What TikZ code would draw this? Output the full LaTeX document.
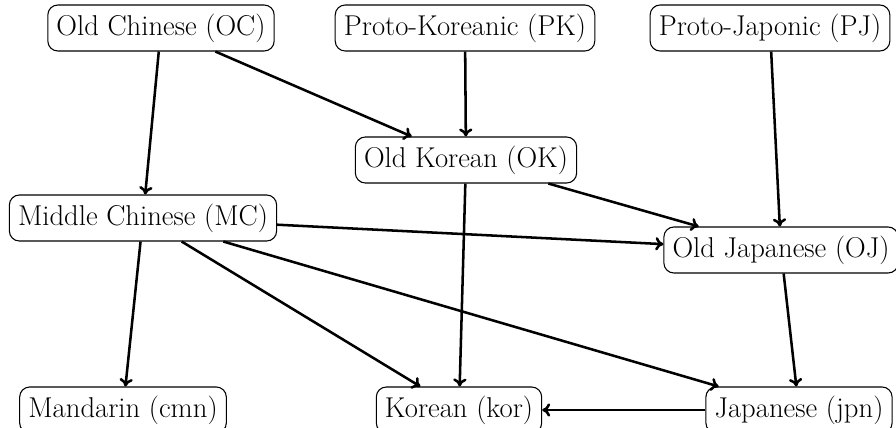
\documentclass[tikz,border=0pt]{standalone}
\usetikzlibrary{arrows.meta}
\begin{document}
\begin{tikzpicture}[x=0.75pt,y=-0.75pt,
  lang/.style={draw, rounded corners=7.5pt, line width=0.8pt, font=\fontsize{21.5}{25}\selectfont, minimum height=34.5pt, inner xsep=6.5pt, inner ysep=2pt},
  edge/.style={line width=1.9pt, -{To[length=6pt,width=10pt]}}]
\useasboundingbox (0,0) rectangle (896,428);
\node[lang] (OC) at (161,28) {Old Chinese (OC)};
\node[lang] (PK) at (465,28) {Proto-Koreanic (PK)};
\node[lang] (PJ) at (770,28) {Proto-Japonic (PJ)};
\node[lang] (OK) at (466,160) {Old Korean (OK)};
\node[lang] (MC) at (143,218) {Middle Chinese (MC)};
\node[lang] (OJ) at (781,250) {Old Japanese (OJ)};
\node[lang] (cmn) at (123,410) {Mandarin (cmn)};
\node[lang] (kor) at (459,410) {Korean (kor)};
\node[lang] (jpn) at (799,410) {Japanese (jpn)};
\draw[edge] (OC) -- (MC);
\draw[edge] (OC) -- (OK);
\draw[edge] (PK) -- (OK);
\draw[edge] (PJ) -- (OJ);
\draw[edge] (OK) -- (OJ);
\draw[edge] (OK) -- (kor);
\draw[edge] (MC) -- (OJ);
\draw[edge] (MC) -- (cmn);
\draw[edge] (MC) -- (kor);
\draw[edge] (MC) -- (jpn);
\draw[edge] (OJ) -- (jpn);
\draw[edge] (jpn) -- (kor);
\end{tikzpicture}
\end{document}
